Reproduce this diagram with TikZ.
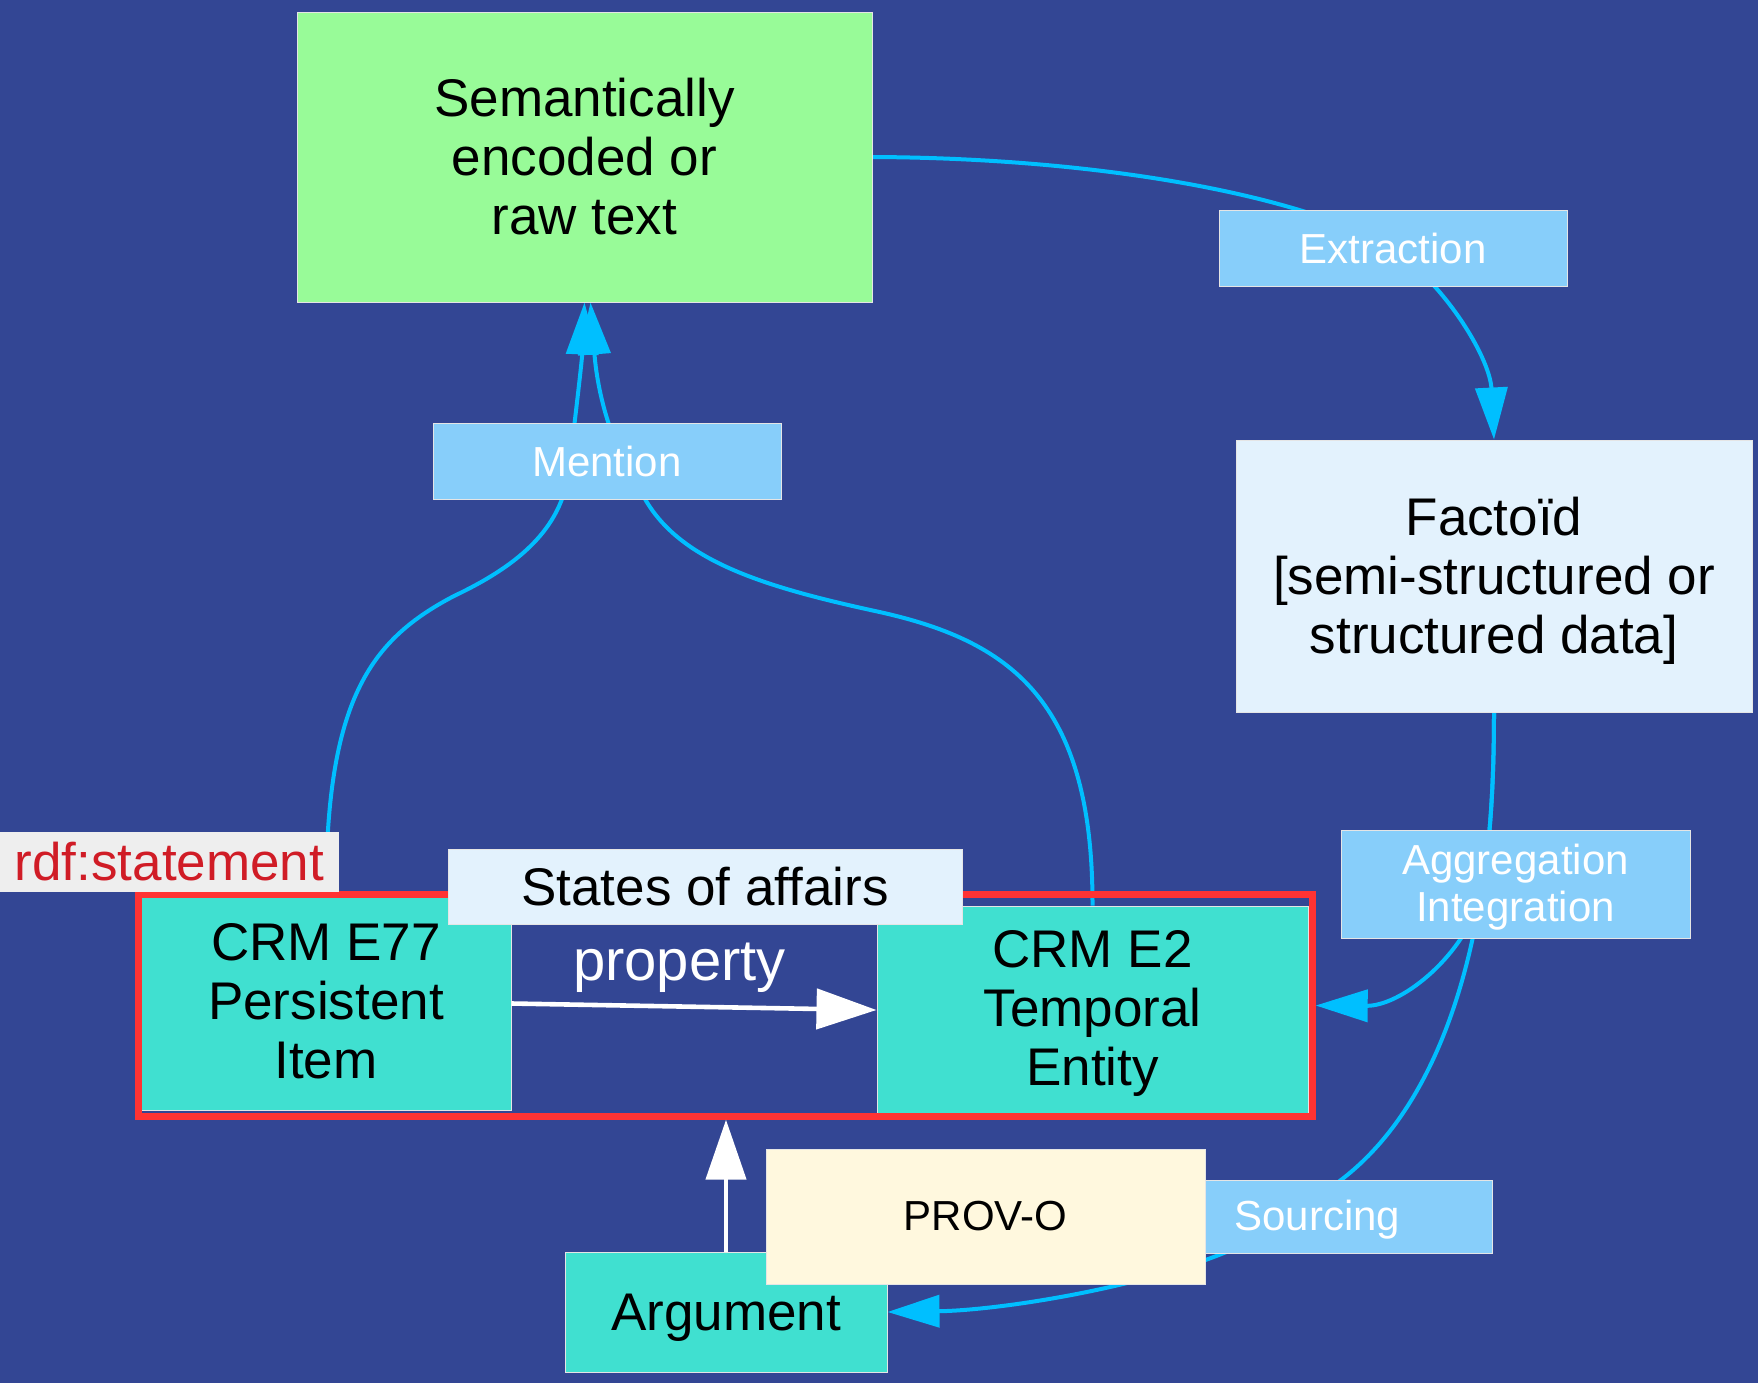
\documentclass[tikz,border=0pt]{standalone}
\usepackage{fontspec}
\setmainfont{Liberation Sans}
\usetikzlibrary{arrows.meta}
\pgfdeclarelayer{bg}
\pgfdeclarelayer{edges}
\pgfsetlayers{bg,edges,main}
\definecolor{bgblue}{RGB}{51,70,148}
\definecolor{edgecyan}{RGB}{0,191,255}
\definecolor{labblue}{RGB}{135,206,250}
\definecolor{palegr}{RGB}{152,251,152}
\definecolor{turq}{RGB}{64,224,208}
\definecolor{paleblue}{RGB}{227,242,253}
\definecolor{cream}{RGB}{255,248,222}
\definecolor{rdfgrey}{RGB}{238,238,238}
\definecolor{rdfred}{RGB}{208,28,38}
\definecolor{stmtred}{RGB}{255,51,51}
% lower a text by #1 without changing its box
\newcommand\lowr[2]{\raisebox{-#1}[\height][\depth]{#2}}
\newcommand\lowml[3]{\raisebox{-#1}[\height][\depth]{\parbox{#2}{\centering #3}}}
\tikzset{
  boxnode/.style={draw=white!80!gray, line width=0.5pt, inner sep=0pt, align=center, text=black},
  bigfont/.style={font=\fontsize{26.5}{29.5}\selectfont},
  labfont/.style={font=\fontsize{21}{23.5}\selectfont},
  lab/.style={boxnode, fill=labblue, text=white, labfont},
  cyanedge/.style={draw=edgecyan, line width=2pt},
  cyantip/.style={-{Triangle[length=26pt,width=16pt]}},
  whitearrow/.style={draw=white, line width=2.3pt, -{Triangle[length=30pt,width=20pt]}},
}
\begin{document}
\begin{tikzpicture}[x=0.5pt,y=-0.5pt]
\useasboundingbox (0,0) rectangle (1758,1383);
\begin{pgfonlayer}{bg}
  \fill[bgblue] (0,0) rectangle (1758,1383);
\end{pgfonlayer}

% boxes
\node[boxnode, fill=palegr, bigfont, minimum width=287.5pt, minimum height=145pt] (green) at (584.5,157) {Semantically\\encoded or\\raw text};
\node[boxnode, fill=paleblue, bigfont, minimum width=258pt, minimum height=136pt] (factoid) at (1494,576) {\lowml{2.2pt}{250pt}{Factoïd\\{[}semi-structured or\\structured data{]}}};
\node[lab, minimum width=174pt, minimum height=38pt] (extr) at (1393,248) {Extraction};
\node[lab, minimum width=174pt, minimum height=38pt] (mention) at (607,461) {Mention};
\node[lab, minimum width=174.5pt, minimum height=54pt] (agg) at (1515.5,884) {\lowml{1.6pt}{170pt}{Aggregation\\Integration}};
\node[boxnode, fill=turq, bigfont, minimum width=185pt, minimum height=106.5pt] (e77) at (326,1003.5) {\lowml{-1pt}{180pt}{CRM E77\\Persistent\\Item}};
\node[boxnode, fill=turq, bigfont, minimum width=215.5pt, minimum height=104pt] (e2) at (1092.5,1010) {\lowml{1.7pt}{210pt}{CRM E2\\Temporal\\Entity}};
\node[draw=stmtred, line width=3.2pt, inner sep=0pt, minimum width=587pt, minimum height=111pt] (stmt) at (725.5,1005.5) {};
\node[boxnode, fill=paleblue, bigfont, minimum width=257pt, minimum height=37.5pt] (states) at (705,886.5) {States of affairs};
\node[boxnode, draw=none, fill=rdfgrey, text=rdfred, bigfont, minimum width=169.5pt, minimum height=30pt] (rdf) at (169.5,862) {rdf:statement};

\draw[whitearrow] (e77.east) -- node[pos=0.46, yshift=22pt, text=white, font=\fontsize{29}{32}\selectfont] {\lowr{2.8pt}{property}} (e2.west);

\node[boxnode, fill=turq, bigfont, minimum width=161pt, minimum height=60pt] (argument) at (726,1312) {\lowr{2.8pt}{Argument}};
\draw[whitearrow] (argument.north) -- (argument.north |- stmt.south);
\node[lab, minimum height=36.5pt, text width=114pt, inner xsep=14.75pt, align=left] (sourcing) at (1348.5,1216.5) {\lowr{1.7pt}{Sourcing}};
\node[boxnode, fill=cream, labfont, minimum width=219.5pt, minimum height=67.5pt] (provo) at (985.5,1216.5) {PROV-O};

% connectors behind the boxes
\begin{pgfonlayer}{edges}
  \coordinate (aggmid) at (1480,900);
  \coordinate (srcmid) at (1300,1205);
  \draw[cyanedge, cyantip] (green.east) .. controls (1100,158) and (1300,195) .. (extr.center)
        .. controls (1450,290) and (1490,360) .. (factoid.north);
  \draw[cyanedge, cyantip] (e77.north) .. controls (326,700) and (370,640) .. (454,596)
        .. controls (530,560) and (566,520) .. (570,461)
        .. controls (575,420) and (582,360) .. (green.south);
  \draw[cyanedge, cyantip] (e2.north) .. controls (1093,700) and (1010,640) .. (875,611)
        .. controls (760,586) and (680,560) .. (645,499)
        .. controls (615,455) and (598,400) .. ([xshift=3pt]green.south);
  \draw[cyanedge, cyantip] (factoid.south) .. controls (1494,800) and (1488,860) .. (aggmid)
        .. controls (1460,960) and (1400,1006) .. (stmt.east);
  \draw[cyanedge, cyantip] (factoid.south) .. controls (1494,800) and (1488,860) .. (aggmid)
        .. controls (1455,1050) and (1395,1160) .. (srcmid)
        .. controls (1250,1270) and (1020,1310) .. (argument.east);
\end{pgfonlayer}
\end{tikzpicture}
\end{document}
